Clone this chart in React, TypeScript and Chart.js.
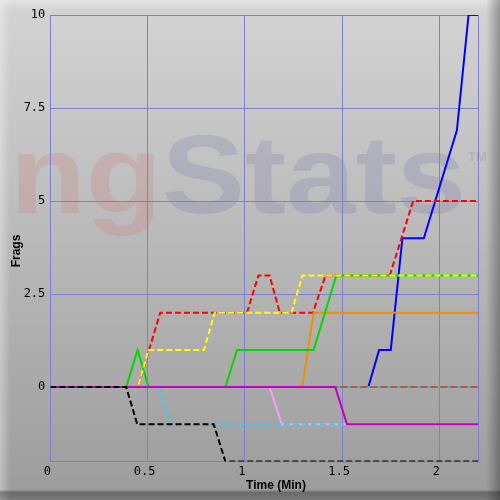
import { useEffect, useRef } from 'react'
import { Chart, registerables } from 'chart.js'

Chart.register(...registerables)

// axis ranges and labelled ticks
const xMin = 0
const xMax = 2.2
const yMin = -2
const yMax = 10
const xTickValues = [0, 0.5, 1, 1.5, 2]
const yTickValues = [0, 2.5, 5, 7.5, 10]

// per player: time (min) and frags
const blackTime = [0, 0.39, 0.447, 0.84, 0.9, 2.2]
const blackFrags = [0, 0, -1, -1, -2, -2]
const magentaTime = [0, 1.465, 1.525, 2.2]
const magentaFrags = [0, 0, -1, -1]
const cyanTime = [0, 0.56, 0.62, 2.2]
const cyanFrags = [0, 0, -1, -1]
const pinkTime = [0, 1.127, 1.19, 2.2]
const pinkFrags = [0, 0, -1, -1]
const yellowTime = [0, 0.45, 0.505, 0.79, 0.845, 1.24, 1.296, 2.2]
const yellowFrags = [0, 0, 1, 1, 2, 2, 3, 3]
const greenTime = [0, 0.39, 0.449, 0.505, 0.9, 0.96, 1.354, 1.47, 2.2]
const greenFrags = [0, 0, 1, 0, 0, 1, 1, 3, 3]
const orangeTime = [0, 1.295, 1.354, 2.2]
const orangeFrags = [0, 0, 2, 2]
const redTime = [0, 0.45, 0.565, 1.011, 1.07, 1.127, 1.18, 1.35, 1.415, 1.745, 1.865, 2.2]
const redFrags = [0, 0, 2, 2, 3, 3, 2, 2, 3, 3, 5, 5]
const brownTime = [0, 2.2]
const brownFrags = [0, 0]
const tealTime = [0, 2.2]
const tealFrags = [0, 0]
const blueTime = [0, 1.635, 1.69, 1.75, 1.81, 1.92, 2.09, 2.15, 2.2]
const blueFrags = [0, 0, 1, 1, 4, 4, 6.9, 10, 10]

const pts = (t: number[], f: number[]) => t.map((x, i) => ({ x, y: f[i] }))

const line = (t: number[], f: number[], color: string, dash?: number[]) => ({
  data: pts(t, f),
  borderColor: color,
  backgroundColor: color,
  borderWidth: 2,
  borderDash: dash ?? [],
  pointRadius: 0,
  tension: 0,
  fill: false,
})

const panelPlugin = {
  id: 'panel',
  beforeDraw(chart: Chart) {
    const { ctx, width: w, height: h } = chart
    ctx.save()
    const g = ctx.createLinearGradient(0, 0, 0, h)
    g.addColorStop(0, '#d4d4d4')
    g.addColorStop(1, '#9c9c9c')
    ctx.fillStyle = g
    ctx.fillRect(0, 0, w, h)

    let e = ctx.createLinearGradient(0, 0, 10, 0)
    e.addColorStop(0, 'rgba(255,255,255,0.35)')
    e.addColorStop(1, 'rgba(255,255,255,0)')
    ctx.fillStyle = e
    ctx.fillRect(0, 0, 10, h)
    e = ctx.createLinearGradient(0, 0, 0, 10)
    e.addColorStop(0, 'rgba(255,255,255,0.35)')
    e.addColorStop(1, 'rgba(255,255,255,0)')
    ctx.fillStyle = e
    ctx.fillRect(0, 0, w, 10)
    e = ctx.createLinearGradient(486, 0, w, 0)
    e.addColorStop(0, 'rgba(0,0,0,0)')
    e.addColorStop(1, 'rgba(0,0,0,0.3)')
    ctx.fillStyle = e
    ctx.fillRect(486, 0, w - 486, h)
    e = ctx.createLinearGradient(0, 490, 0, h)
    e.addColorStop(0, 'rgba(0,0,0,0.05)')
    e.addColorStop(0.25, 'rgba(0,0,0,0.32)')
    e.addColorStop(1, 'rgba(0,0,0,0.22)')
    ctx.fillStyle = e
    ctx.fillRect(0, 490, w, h - 490)

    // watermark
    ctx.font = 'bold 112px "Liberation Sans", Arial, sans-serif'
    ctx.textBaseline = 'alphabetic'
    ctx.textAlign = 'left'
    const wNg = ctx.measureText('ng').width
    const wAll = ctx.measureText('ngStats').width
    ctx.translate(10, 213)
    ctx.scale(456 / wAll, 1)
    ctx.fillStyle = 'rgba(220,90,90,0.16)'
    ctx.fillText('ng', 0, 0)
    ctx.fillStyle = 'rgba(70,70,160,0.14)'
    ctx.fillText('Stats', wNg, 0)
    ctx.restore()
    ctx.save()
    ctx.font = 'bold 13px "Liberation Sans", Arial, sans-serif'
    ctx.fillStyle = 'rgba(70,70,160,0.14)'
    ctx.fillText('TM', 468, 161)
    ctx.restore()
  },
  afterDraw(chart: Chart) {
    const { ctx } = chart
    ctx.save()
    ctx.fillStyle = '#000'
    ctx.font = 'bold 12px "Liberation Sans", Arial, sans-serif'
    ctx.textAlign = 'center'
    ctx.textBaseline = 'middle'
    ctx.fillText('Time (Min)', 276, 486)
    ctx.translate(17, 251)
    ctx.rotate(-Math.PI / 2)
    ctx.fillText('Frags', 0, 0)
    ctx.restore()
  },
}

export default function App() {
  const canvasRef = useRef<HTMLCanvasElement>(null)

  useEffect(() => {
    if (!canvasRef.current) return
    const grid = '#7e7ed2'
    const tickFont = { family: '"DejaVu Sans Mono", monospace', size: 12 }
    const chart = new Chart(canvasRef.current, {
      type: 'line',
      data: {
        datasets: [
          line(blackTime, blackFrags, '#000000', [6, 3]),
          line(magentaTime, magentaFrags, '#c400c4'),
          line(cyanTime, cyanFrags, '#40c8f0', [6, 3]),
          line(pinkTime, pinkFrags, '#f4a0f0'),
          line(yellowTime, yellowFrags, '#ffff00', [6, 3]),
          line(greenTime, greenFrags, '#00d800'),
          line(orangeTime, orangeFrags, '#f09000'),
          line(redTime, redFrags, '#ff0000', [6, 3]),
          line(brownTime, brownFrags, '#c05050', [7, 3]),
          line(tealTime, tealFrags, '#20c8b8'),
          line(blueTime, blueFrags, '#0000ff'),
        ] as any,
      },
      options: {
        responsive: false,
        animation: false,
        layout: { padding: { top: 15, right: 21.7, bottom: 0, left: 0.3 } },
        plugins: { legend: { display: false }, tooltip: { enabled: false } },
        scales: {
          x: {
            type: 'linear',
            min: xMin,
            max: xMax,
            afterBuildTicks: (s: any) => { s.ticks = [...xTickValues, xMax].map(value => ({ value })) },
            afterFit: (s: any) => { s.height = 38.5 },
            ticks: {
              color: '#000', font: tickFont, padding: 3, maxRotation: 0, autoSkip: false, labelOffset: -3,
              callback: (v: any) => (xTickValues.includes(v) ? String(v) : ''),
            },
            grid: { color: grid, lineWidth: 1, drawTicks: false },
            border: { display: false },
          },
          y: {
            type: 'linear',
            min: yMin,
            max: yMax,
            afterBuildTicks: (s: any) => { s.ticks = [yMin, ...yTickValues].map(value => ({ value })) },
            afterFit: (s: any) => { s.width = 50 },
            ticks: {
              color: '#000', font: tickFont, padding: 5, autoSkip: false,
              callback: (v: any) => (yTickValues.includes(v) ? String(v) : ''),
            },
            grid: { color: grid, lineWidth: 1, drawTicks: false },
            border: { display: false },
          },
        },
      },
      plugins: [panelPlugin],
    })
    return () => chart.destroy()
  }, [])

  return (
    <div style={{ position: 'fixed', left: 0, top: 0, width: 500, height: 500 }}>
      <canvas ref={canvasRef} width={500} height={500} />
    </div>
  )
}
